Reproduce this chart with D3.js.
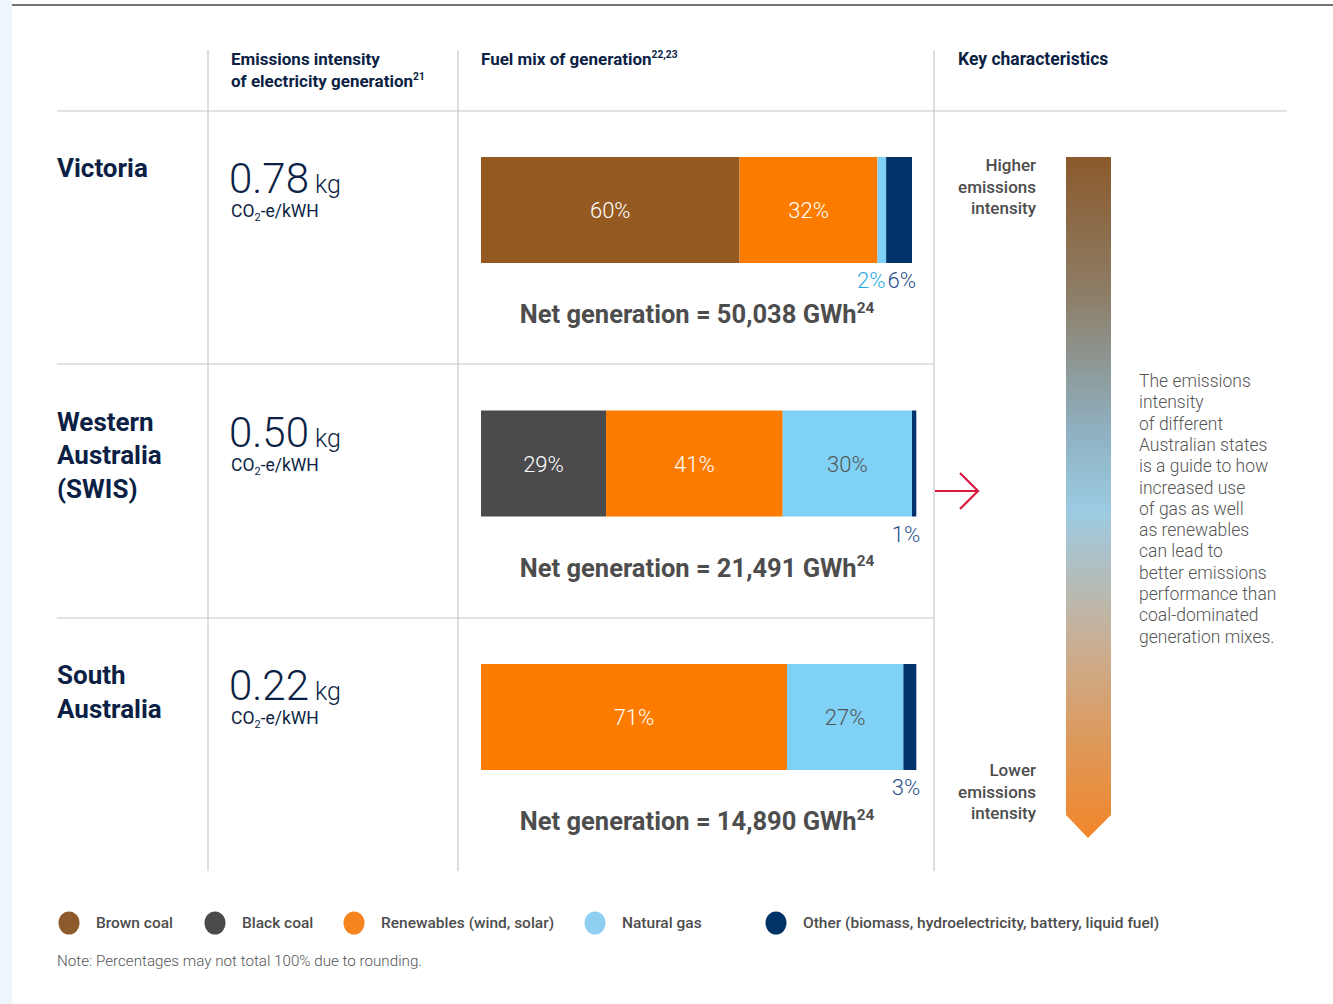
<!DOCTYPE html>
<html><head><meta charset="utf-8">
<script src="https://cdn.jsdelivr.net/npm/d3@7"></script>
<style>
body{margin:0;background:#fff;}
svg{display:block;font-family:Roboto,"Noto Sans",sans-serif;}
</style></head>
<body>
<svg id="c" width="1333" height="1004"></svg>
<script>
// ---- data ----
const states = ["Victoria", "Western Australia (SWIS)", "South Australia"];
const stateLines = [["Victoria"], ["Western", "Australia", "(SWIS)"], ["South", "Australia"]];
const intensity = ["0.78", "0.50", "0.22"];
const fuels = ["Brown coal", "Black coal", "Renewables (wind, solar)", "Natural gas", "Other (biomass, hydroelectricity, battery, liquid fuel)"];
const brownCoal  = [60, 0, 0];
const blackCoal  = [0, 29, 0];
const renewables = [32, 41, 71];
const naturalGas = [2, 30, 27];
const other      = [6, 1, 3];
const netGeneration = ["50,038", "21,491", "14,890"];
const description = ["The emissions", "intensity", "of different", "Australian states", "is a guide to how", "increased use", "of gas as well", "as renewables", "can lead to", "better emissions", "performance than", "coal-dominated", "generation mixes."];

// ---- styles ----
const fuelColors = ["#955a21", "#4b4b4d", "#fd7c00", "#7fd1f6", "#00336a"];
const legendColors = ["#8c5a2b", "#4b4b4d", "#f5841f", "#8fd0f2", "#003366"];
const innerText = ["#ffffff", "#ffffff", "#ffffff", "#555555", "#ffffff"];
const outerText = ["#955a21", "#4b4b4d", "#fd7c00", "#29abe2", "#1f4e8c"];
const navy = "#0c1f45";
const grey = "#4d4d4d";

const svg = d3.select("#c");

// background strip and top rule
svg.append("rect").attr("x", 0).attr("y", 0).attr("width", 12).attr("height", 1004).attr("fill", "#eef6fd");
svg.append("line").attr("x1", 12).attr("x2", 1333).attr("y1", 5).attr("y2", 5).attr("stroke", "#444").attr("stroke-width", 1.5);

// grid lines
const gridC = "#c8c8c8";
[208, 458, 934].forEach(x => svg.append("line").attr("x1", x).attr("x2", x).attr("y1", 50).attr("y2", 871).attr("stroke", gridC).attr("stroke-width", 1.2));
svg.append("line").attr("x1", 57).attr("x2", 1287).attr("y1", 111).attr("y2", 111).attr("stroke", gridC).attr("stroke-width", 1.2);
[364, 618].forEach(y => svg.append("line").attr("x1", 57).attr("x2", 934).attr("y1", y).attr("y2", y).attr("stroke", gridC).attr("stroke-width", 1.2));

// headers
function textWithSup(g, x, y, main, sup, size, weight, color, anchor) {
  const t = g.append("text").attr("x", x).attr("y", y).attr("font-size", size).attr("font-weight", weight).attr("fill", color).attr("text-anchor", anchor || "start");
  t.append("tspan").text(main);
  if (sup) t.append("tspan").attr("font-size", size * 0.6).attr("dy", -size * 0.4).text(sup);
  return t;
}
textWithSup(svg, 231, 65, "Emissions intensity", null, 17, 700, navy);
textWithSup(svg, 231, 87, "of electricity generation", "21", 17, 700, navy);
textWithSup(svg, 481, 65, "Fuel mix of generation", "22,23", 17, 700, navy);
textWithSup(svg, 958, 65, "Key characteristics", null, 17.5, 700, navy);

// scales
const rowY = d3.scalePoint().domain(states).range([111, 618]);
const x = d3.scaleLinear().domain([0, 100]).range([481, 912]);
const barH = 106;

const rows = states.map((s, i) => ({state: s, i, v: [brownCoal[i], blackCoal[i], renewables[i], naturalGas[i], other[i]]}));
const stack = d3.stack().keys([0, 1, 2, 3, 4]).value((d, k) => d.v[k]);
const series = stack(rows);

rows.forEach((r, i) => {
  const top = rowY(r.state);
  const g = svg.append("g");
  // state name
  stateLines[i].forEach((ln, j) => g.append("text").attr("x", 57).attr("y", top + 66 + j * 33.5).attr("font-size", 26).attr("font-weight", 700).attr("fill", navy).text(ln));
  // intensity
  const t = g.append("text").attr("x", 229).attr("y", top + 82).attr("fill", navy);
  t.append("tspan").attr("font-size", 42).attr("font-weight", 300).text(intensity[i]);
  t.append("tspan").attr("font-size", 25).attr("font-weight", 300).attr("dx", 6).text("kg");
  const u = g.append("text").attr("x", 231).attr("y", top + 106).attr("fill", navy).attr("font-size", 17.5).attr("font-weight", 400);
  u.append("tspan").text("CO");
  u.append("tspan").attr("font-size", 11).attr("dy", 4).text("2");
  u.append("tspan").attr("dy", -4).text("-e/kWH");

  const by = top + 46;
  const segs = series.map((s, k) => ({k, x0: s[i][0], x1: s[i][1], v: r.v[k]})).filter(d => d.v > 0);
  g.selectAll("rect.seg").data(segs).join("rect")
    .attr("x", d => x(d.x0)).attr("y", by)
    .attr("width", d => x(d.x1) - x(d.x0)).attr("height", barH)
    .attr("fill", d => fuelColors[d.k]);
  // inner labels
  segs.filter(d => d.v >= 10).forEach(d => {
    g.append("text").attr("x", (x(d.x0) + x(d.x1)) / 2).attr("y", by + barH / 2 + 8)
      .attr("text-anchor", "middle").attr("font-size", 22).attr("font-weight", 300)
      .attr("fill", innerText[d.k]).text(d.v + "%");
  });
  // outer labels (small segments), right to left
  const small = segs.filter(d => d.v < 10);
  let endX = x(segs[segs.length - 1].x1) + 4;
  for (let j = small.length - 1; j >= 0; j--) {
    const d = small[j];
    const tt = g.append("text").attr("x", endX).attr("y", by + barH + 25)
      .attr("text-anchor", "end").attr("font-size", 22).attr("font-weight", 300)
      .attr("fill", outerText[d.k]).text(d.v + "%");
    endX -= tt.node().getComputedTextLength() + 2;
  }
  // net generation
  textWithSup(g, 697, by + barH + 60, "Net generation = " + netGeneration[i] + " GWh", "24", 25.5, 700, grey, "middle");
});

// arrow
svg.append("path").attr("d", "M935,491 H977 M960,473 L978,491 L960,509").attr("fill", "none").attr("stroke", "#d7193f").attr("stroke-width", 2.2);

// gradient bar
const defs = svg.append("defs");
const grad = defs.append("linearGradient").attr("id", "eg").attr("x1", 0).attr("x2", 0).attr("y1", 0).attr("y2", 1);
[[0, "#8b5a2c"], [0.2, "#8d7d66"], [0.4, "#8eb0c0"], [0.52, "#9ccbe3"], [0.7, "#c7b199"], [0.85, "#dc9a5e"], [1, "#f2862a"]]
  .forEach(([o, c]) => grad.append("stop").attr("offset", o).attr("stop-color", c));
svg.append("path").attr("d", "M1066,157 H1111 V815 L1088,838 L1066,815 Z").attr("fill", "url(#eg)");

["Higher", "emissions", "intensity"].forEach((w, j) => svg.append("text").attr("x", 1036).attr("y", 171 + j * 21.5).attr("text-anchor", "end").attr("font-size", 17).attr("font-weight", 500).attr("fill", grey).text(w));
["Lower", "emissions", "intensity"].forEach((w, j) => svg.append("text").attr("x", 1036).attr("y", 776 + j * 21.5).attr("text-anchor", "end").attr("font-size", 17).attr("font-weight", 500).attr("fill", grey).text(w));

description.forEach((ln, j) => svg.append("text").attr("x", 1139).attr("y", 387 + j * 21.3).attr("font-size", 17.5).attr("font-weight", 300).attr("fill", "#555").text(ln));

// legend
const legX = [69, 215, 354, 595, 776];
fuels.forEach((f, k) => {
  svg.append("ellipse").attr("cx", legX[k]).attr("cy", 923).attr("rx", 10.5).attr("ry", 11.5).attr("fill", legendColors[k]);
  svg.append("text").attr("x", legX[k] + 27).attr("y", 928).attr("font-size", 15.5).attr("font-weight", 500).attr("fill", grey).text(f);
});
svg.append("text").attr("x", 57).attr("y", 966).attr("font-size", 15.2).attr("font-weight", 300).attr("fill", "#555").text("Note: Percentages may not total 100% due to rounding.");
</script>
</body></html>
